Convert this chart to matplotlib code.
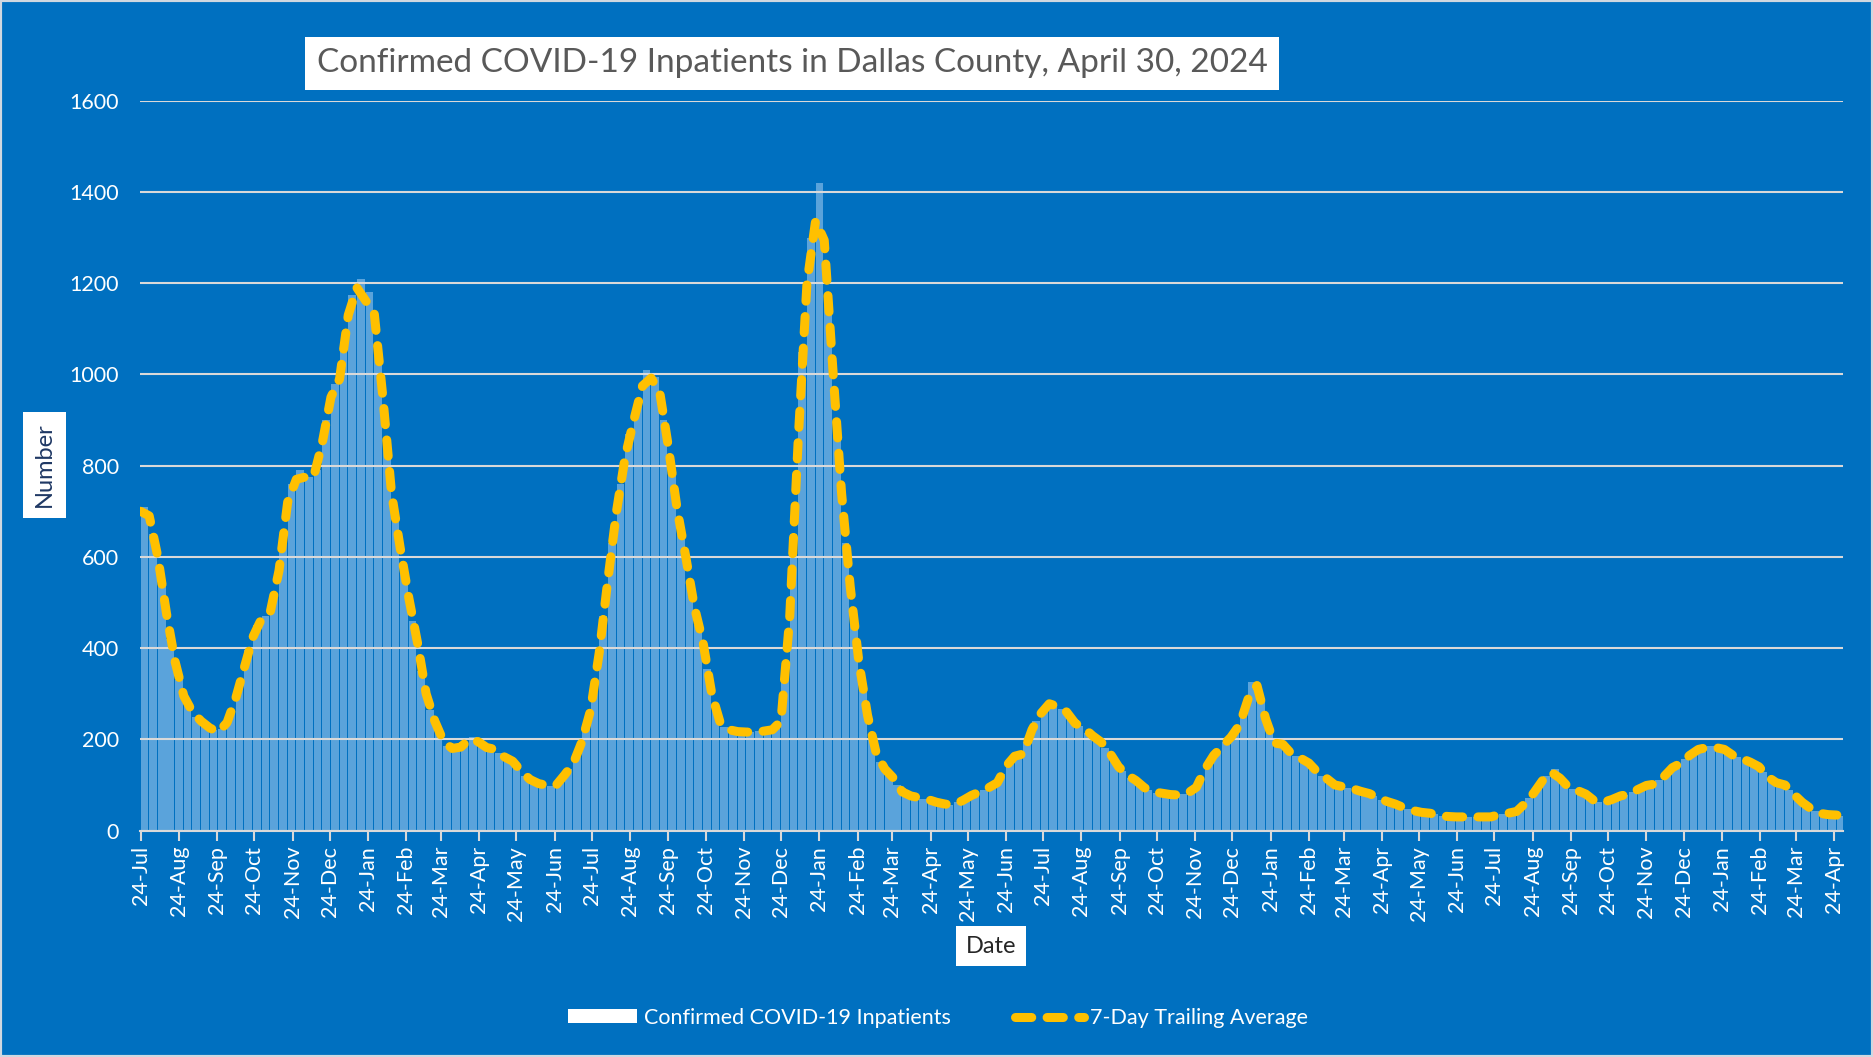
import numpy as np
import pandas as pd
import matplotlib
matplotlib.use("Agg")
import matplotlib.pyplot as plt
import matplotlib.dates as mdates
from matplotlib.patches import Patch, Rectangle
from matplotlib.lines import Line2D

plt.rcParams['font.family'] = ['Lato', 'DejaVu Sans']

# weekly readings, first week starts 24 Jul 2020
start_date = '2020-07-24'

inpatients = [
    710, 650, 540, 420, 330, 275, 250, 232, 220, 222, 262, 325, 395, 450, 470, 520, 650, 760, 790, 775,
    790, 900, 980, 1060, 1175, 1210, 1180, 1060, 840, 680, 565, 460, 350, 265, 215, 185, 180, 192, 205, 188,
    180, 170, 158, 140, 120, 108, 100, 98, 108, 135, 170, 230, 320, 470, 630, 760, 870, 940, 1010, 995,
    900, 780, 650, 545, 450, 355, 265, 228, 218, 216, 216, 218, 220, 230, 330, 650, 1050, 1300, 1420, 1170,
    870, 630, 450, 310, 210, 150, 125, 100, 80, 74, 70, 65, 60, 57, 62, 72, 82, 90, 100, 125,
    155, 165, 195, 240, 268, 280, 266, 248, 230, 215, 200, 182, 155, 130, 116, 102, 90, 83, 80, 78,
    80, 88, 115, 150, 175, 195, 218, 262, 325, 290, 215, 190, 178, 163, 153, 138, 120, 108, 98, 94,
    89, 83, 76, 68, 61, 54, 47, 42, 39, 36, 32, 30, 30, 30, 30, 30, 32, 36, 40, 50,
    72, 97, 120, 135, 105, 92, 84, 75, 63, 65, 72, 78, 85, 95, 100, 110, 128, 143, 157, 172,
    180, 185, 180, 172, 162, 154, 145, 128, 112, 102, 90, 70, 55, 42, 36, 34, 33,
]

trailing_avg = [
    700, 690, 600, 476, 370, 295, 260, 240, 225, 216, 237, 290, 358, 425, 465, 480, 570, 720, 770, 775,
    775, 850, 950, 990, 1130, 1190, 1162, 1135, 950, 740, 620, 510, 412, 300, 240, 196, 180, 183, 200, 195,
    182, 178, 162, 152, 130, 112, 103, 99, 99, 122, 147, 195, 264, 390, 550, 700, 820, 900, 975, 992,
    960, 840, 705, 600, 490, 412, 300, 235, 221, 217, 216, 216, 218, 221, 240, 465, 860, 1199, 1337, 1294,
    1010, 740, 535, 370, 253, 170, 135, 115, 85, 76, 72, 68, 62, 58, 57, 66, 77, 85, 94, 105,
    141, 163, 168, 221, 256, 278, 272, 260, 235, 225, 208, 194, 170, 140, 122, 110, 94, 85, 82, 79,
    78, 82, 95, 135, 165, 185, 205, 232, 290, 318, 245, 192, 189, 168, 159, 148, 128, 115, 100, 96,
    92, 86, 81, 72, 64, 58, 50, 44, 40, 38, 34, 31, 30, 30, 30, 30, 30, 35, 38, 42,
    60, 83, 110, 128, 115, 95, 88, 80, 65, 62, 68, 76, 80, 90, 99, 102, 118, 138, 148, 165,
    178, 182, 182, 178, 165, 158, 150, 140, 118, 105, 100, 80, 62, 48, 38, 35, 34,
]

bar_dates = pd.date_range(start_date, periods=len(inpatients), freq='7D')
avg_dates = pd.date_range(start_date, periods=len(trailing_avg), freq='7D')
tick_dates = pd.date_range('2020-07-01', '2024-04-01', freq='MS') + pd.Timedelta(days=23)

bg = '#0070C0'
fig = plt.figure(figsize=(18.73, 10.57), dpi=100, facecolor=bg)
ax = fig.add_axes([0.0747, 0.2142, 0.9093, 0.6905])
ax.set_facecolor(bg)

ax.bar(bar_dates, inpatients, width=6.2, align='edge', color='#5AA3DB', linewidth=0, zorder=1)
ax.plot(avg_dates, trailing_avg, color='#FFC000', lw=6.5, dashes=(1.8, 1.7),
        dash_capstyle='round', solid_capstyle='round', zorder=3)

ax.set_ylim(0, 1600)
ax.set_yticks(np.arange(0, 1601, 200))
ax.set_xlim(pd.Timestamp('2020-07-23 12:00'), pd.Timestamp('2024-05-01'))
ax.set_xticks(tick_dates)
ax.xaxis.set_major_formatter(mdates.DateFormatter('%d-%b'))
ax.set_axisbelow(False)
ax.yaxis.grid(True, color='#D9D9D9', lw=1.5)
ax.xaxis.grid(False)

for s in ['top', 'right', 'left']:
    ax.spines[s].set_visible(False)
ax.spines['bottom'].set_color('#D9D9D9')
ax.spines['bottom'].set_linewidth(1.5)
ax.tick_params(axis='x', colors='#D9D9D9', length=7, width=1.5, labelcolor='white',
               labelsize=15.5, rotation=90, pad=4)
ax.tick_params(axis='y', length=0, labelcolor='white', labelsize=15.5, pad=15)

fig.text(0.423, 0.94, 'Confirmed COVID-19 Inpatients in Dallas County, April 30, 2024',
         ha='center', va='center', fontsize=24, color='#595959',
         bbox=dict(boxstyle='square,pad=0.35', fc='white', ec='none'))
fig.text(0.0238, 0.56, 'Number', rotation=90, ha='center', va='center', fontsize=17,
         color='#1F3864', bbox=dict(boxstyle='square,pad=0.45', fc='white', ec='none'))
fig.text(0.529, 0.105, 'Date', ha='center', va='center', fontsize=17,
         color='#262626', bbox=dict(boxstyle='square,pad=0.4', fc='white', ec='none'))

handles = [Patch(facecolor='white', edgecolor='none'),
           Line2D([0], [0], color='#FFC000', lw=6.5, dashes=(1.8, 1.7), dash_capstyle='round')]
fig.legend(handles, ['Confirmed COVID-19 Inpatients', '7-Day Trailing Average'],
           loc='center', bbox_to_anchor=(0.501, 0.037), ncol=2, frameon=False,
           labelcolor='white', fontsize=15.5, handlelength=3.2, handleheight=0.6,
           columnspacing=3.0, handletextpad=0.3)

fig.add_artist(Rectangle((0, 0), 1, 1, transform=fig.transFigure, fill=False,
                         ec='#D0D8E0', lw=3))

fig.savefig('out.png', dpi=100, facecolor=bg)
